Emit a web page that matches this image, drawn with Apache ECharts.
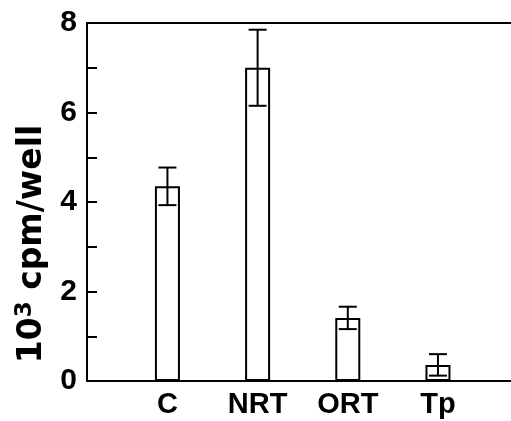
<!DOCTYPE html>
<html>
<head>
<meta charset="utf-8">
<script src="https://cdn.jsdelivr.net/npm/echarts@6/dist/echarts.min.js"></script>
<style>html,body{margin:0;padding:0;background:#fff;}#chart{width:511px;height:421px;}</style>
</head>
<body>
<div id="chart"></div>
<script>
const categories = ['C', 'NRT', 'ORT', 'Tp'];
const positions = [1, 2, 3, 4];
const means = [4.35, 7.0, 1.41, 0.36];
const errors = [0.42, 0.85, 0.25, 0.24];
const yTicks = [0, 1, 2, 3, 4, 5, 6, 7, 8];

const chart = echarts.init(document.getElementById('chart'), null, {renderer: 'canvas'});
const barData = positions.map((p, i) => [p, means[i]]);
const errData = positions.map((p, i) => [p, means[i] - errors[i], means[i] + errors[i]]);

const option = {
  backgroundColor: '#fff',
  animation: false,
  grid: {left: 87, right: 0, top: 23, bottom: 40},
  xAxis: [{
    type: 'value',
    min: 0.108,
    max: 4.81,
    splitLine: {show: false},
    axisLine: {show: true, lineStyle: {color: '#000', width: 2}},
    axisTick: {show: false},
    axisLabel: {
      customValues: positions,
      formatter: v => categories[Math.round(v) - 1] || '',
      color: '#000', fontFamily: 'Liberation Sans', fontWeight: 'bold', fontSize: 29, margin: 9
    }
  }, {
    type: 'value',
    position: 'top',
    min: 0.108,
    max: 4.81,
    splitLine: {show: false},
    axisLine: {show: true, lineStyle: {color: '#000', width: 2}},
    axisTick: {show: false},
    axisLabel: {show: false}
  }],
  yAxis: {
    type: 'value',
    min: yTicks[0],
    max: yTicks[yTicks.length - 1],
    interval: 1,
    splitLine: {show: false},
    axisLine: {show: true, lineStyle: {color: '#000', width: 2}},
    axisTick: {show: true, inside: true, length: 10, lineStyle: {color: '#000', width: 2}},
    axisLabel: {
      formatter: v => (v % 2 === 0 ? String(v) : ''),
      color: '#000', fontFamily: 'Liberation Sans', fontWeight: 'bold', fontSize: 30, margin: 10
    },
    name: '{b|10}{s|3}{b| cpm/well}',
    nameLocation: 'middle',
    nameRotate: 90,
    nameGap: 35,
    nameTextStyle: {
      padding: [0, 84, 0, 0],
      rich: {
        b: {fontFamily: 'DejaVu Sans', fontWeight: 'bold', fontSize: 33, color: '#000'},
        s: {fontFamily: 'DejaVu Sans', fontWeight: 'bold', fontSize: 23, color: '#000', padding: [0, 0, 15, 0]}
      }
    }
  },
  series: [{
    type: 'bar',
    data: barData,
    barWidth: 25,
    itemStyle: {color: '#fff', borderColor: '#000', borderWidth: 2}
  }, {
    type: 'custom',
    data: errData,
    z: 5,
    renderItem: function (params, api) {
      const x = api.value(0);
      const lo = api.coord([x, api.value(1)]);
      const hi = api.coord([x, api.value(2)]);
      const hw = 9;
      const style = {stroke: '#000', lineWidth: 2};
      return {
        type: 'group',
        children: [
          {type: 'line', shape: {x1: lo[0], y1: lo[1], x2: hi[0], y2: hi[1]}, style},
          {type: 'line', shape: {x1: hi[0] - hw, y1: hi[1], x2: hi[0] + hw, y2: hi[1]}, style},
          {type: 'line', shape: {x1: lo[0] - hw, y1: lo[1], x2: lo[0] + hw, y2: lo[1]}, style}
        ]
      };
    }
  }]
};
chart.setOption(option);
</script>
</body>
</html>
